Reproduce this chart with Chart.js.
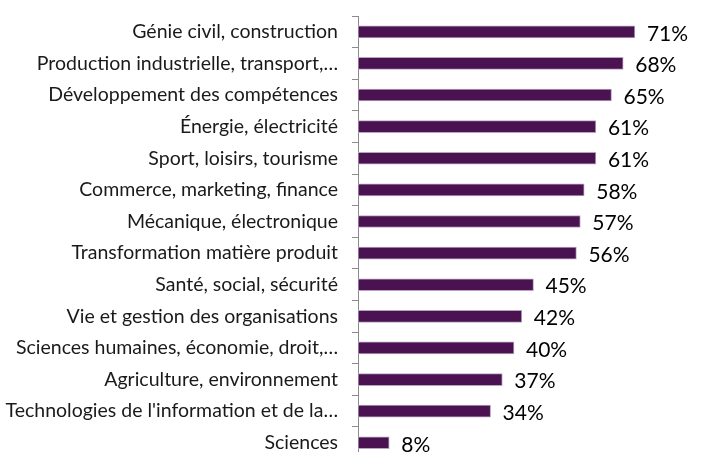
<!DOCTYPE html>
<html><head><meta charset="utf-8">
<script src="https://cdn.jsdelivr.net/npm/chart.js@4/dist/chart.umd.min.js"></script>
<style>html,body{margin:0;padding:0;background:#fff;overflow:hidden}canvas{display:block}</style>
</head><body><canvas id="c" width="705" height="462"></canvas>
<script>
const categories = ["Génie civil, construction","Production industrielle, transport,…","Développement des compétences","Énergie, électricité","Sport, loisirs, tourisme","Commerce, marketing, finance","Mécanique, électronique","Transformation matière produit","Santé, social, sécurité","Vie et gestion des organisations","Sciences humaines, économie, droit,…","Agriculture, environnement","Technologies de l'information et de la…","Sciences"];
const values = [71,68,65,61,61,58,57,56,45,42,40,37,34,8];

const valueLabels = {
  id:'valueLabels',
  afterDatasetsDraw(chart){
    const ctx = chart.ctx;
    const meta = chart.getDatasetMeta(0);
    ctx.save();
    ctx.font = '21px Lato';
    ctx.fillStyle = '#000';
    ctx.textBaseline = 'middle';
    ctx.textAlign = 'left';
    meta.data.forEach((bar,i)=>{
      ctx.fillText(values[i] + '%', bar.x + 12, bar.y + 2);
    });
    ctx.restore();
  }
};

new Chart(document.getElementById('c'), {
  type:'bar',
  data:{labels:categories, datasets:[{data:values, backgroundColor:'#4a1250', borderColor:'#b9a3c2', borderWidth:1, barThickness:12, borderSkipped:false}]},
  options:{
    indexAxis:'y', responsive:false, maintainAspectRatio:false, animation:false,
    layout:{padding:{top:16,bottom:3.4,right:35,left:0}},
    plugins:{legend:{display:false}, tooltip:{enabled:false}},
    scales:{
      x:{display:false, min:0, max:80},
      y:{
        afterFit(s){ s.width = 358; s.paddingTop = 0; s.paddingBottom = 0; },
        border:{display:true, color:'#8c8c8c', width:1},
        grid:{drawOnChartArea:false, tickLength:6, color:'#8c8c8c'},
        ticks:{padding:14, color:'#1a1a1a', font:{family:'Lato', size:19.5}}
      }
    }
  },
  plugins:[valueLabels]
});
</script></body></html>
